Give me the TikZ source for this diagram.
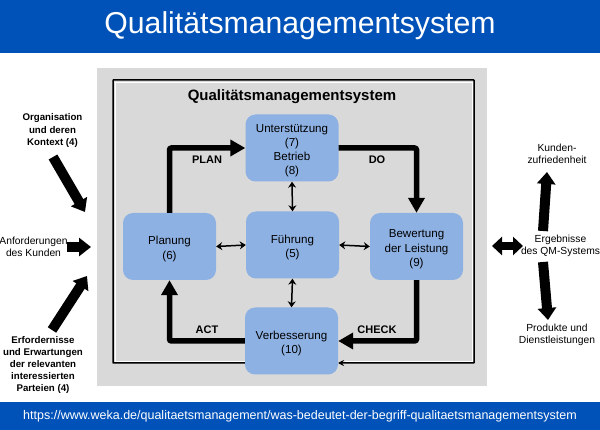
\documentclass[tikz,border=0pt]{standalone}
\usepackage{fontspec}
\setmainfont{Liberation Sans}
\usetikzlibrary{arrows.meta}
\definecolor{bannerblue}{HTML}{0052B8}
\definecolor{panelgray}{HTML}{D9D9D9}
\definecolor{boxblue}{HTML}{8EB1E3}
\newcommand{\boxtop}{\rule{0pt}{13.5pt}}
\tikzset{
  qmbox/.style={fill=boxblue, rounded corners=10pt, minimum width=93pt, minimum height=67pt, inner sep=0pt, align=center, font=\fontsize{11.6}{14.3}\selectfont},
  pdca/.style={line width=5.5pt, rounded corners=2pt, -{Triangle[length=15pt,width=16pt]}},
  small/.style={line width=1.5pt, {Stealth[length=6pt,width=8pt]}-{Stealth[length=6pt,width=8pt]}},
  outer/.style={line width=10pt, -{Triangle[length=12pt,width=18pt]}},
  caption/.style={align=center, font=\fontsize{10.3}{12.2}\selectfont},
  bcaption/.style={caption, font=\fontsize{9.7}{12.2}\selectfont\bfseries},
  phase/.style={font=\fontsize{11}{12}\selectfont\bfseries}
}
\begin{document}
\begin{tikzpicture}[x=1pt, y=-1pt]
  \useasboundingbox (0,0) rectangle (600,430);
  % banners and panel
  \fill[bannerblue] (0,0) rectangle (600,53);
  \fill[bannerblue] (0,402) rectangle (600,430);
  \fill[panelgray] (97,68) rectangle (487,386);
  \node[text=white, font=\fontsize{30.2}{32}\selectfont] (title) at (300,26) {Qualitätsmanagementsystem};
  \node[text=white, font=\fontsize{12.5}{14}\selectfont] (url) at (300,416) {https://www.weka.de/qualitaetsmanagement/was-bedeutet-der-begriff-qualitaetsmanagementsystem};
  \node[font=\fontsize{15}{17}\selectfont\bfseries] (head) at (292,97) {Qualitätsmanagementsystem};
  % frame
  \draw[line width=1.5pt, -{Stealth[length=6pt,width=6pt]}, rounded corners=0.5pt] (245,363) -- (113,363) -- (113,80) -- (474,80) -- (474,363) -- (338,363);
  \draw[white, line width=0.8pt] (245,361) -- (115,361) -- (115,82) -- (472,82) -- (472,361) -- (345,361);
  % boxes
  \node[qmbox] (support) at (292,148) {\boxtop Unterstützung\\(7)\\Betrieb\\(8)};
  \node[qmbox] (lead) at (292.5,245) {\boxtop Führung\\(5)};
  \node[qmbox] (plan) at (169.5,246.5) {\boxtop Planung\\(6)};
  \node[qmbox] (eval) at (416.5,246.5) {\boxtop Bewertung\\der Leistung\\(9)};
  \node[qmbox] (improve) at (291.5,341) {\boxtop Verbesserung\\(10)};
  % cycle
  \draw[pdca] (plan.north) |- (support.west);
  \draw[pdca] (support.east) -| (eval.north);
  \draw[pdca] (eval.south) |- (improve.east);
  \draw[pdca] (improve.west) -| (plan.south);
  \node[phase] (planlab) at (207,160) {PLAN};
  \node[phase] (dolab) at (377,160) {DO};
  \node[phase] (checklab) at (377,330) {CHECK};
  \node[phase] (actlab) at (207,330) {ACT};
  % inner links
  \draw[small] (support.south) -- (lead.north);
  \draw[small] (lead.south) -- (improve.north);
  \draw[small] (plan.east) -- (lead.west);
  \draw[small] (lead.east) -- (eval.west);
  % left side
  \node[bcaption] (context) at (52.5,130.5) {Organisation\\und deren\\Kontext (4)};
  \node[caption] (customer) at (33.5,247) {Anforderungen\\des Kunden};
  \node[bcaption] (needs) at (43,365) {Erfordernisse\\und Erwartungen\\der relevanten\\interessierten\\Parteien (4)};
  \coordinate (contextend) at (85,212);
  \coordinate (customerend) at (91,247);
  \coordinate (needsend) at (87,276);
  \coordinate (contextstart) at (53,157);
  \coordinate (customerstart) at (67,247);
  \coordinate (needsstart) at (52,330);
  \draw[outer] (contextstart) -- (contextend);
  \draw[outer] (customerstart) -- (customerend);
  \draw[outer] (needsstart) -- (needsend);
  % right side
  \node[caption] (satisfaction) at (557,154) {Kunden-\\zufriedenheit};
  \node[caption] (results) at (560.5,246) {Ergebnisse\\des QM-Systems};
  \node[caption] (products) at (557,335) {Produkte und\\Dienstleistungen};
  \coordinate (upstart) at (543,231);
  \coordinate (upend) at (547,172);
  \coordinate (downstart) at (543,262);
  \coordinate (downend) at (548,320);
  \coordinate (bothleft) at (492,246);
  \coordinate (bothright) at (523,246);
  \draw[outer] (upstart) -- (upend);
  \draw[outer] (downstart) -- (downend);
  \draw[line width=8pt, {Triangle[length=10pt,width=18pt]}-{Triangle[length=10pt,width=18pt]}] (bothleft) -- (bothright);
\end{tikzpicture}
\end{document}
